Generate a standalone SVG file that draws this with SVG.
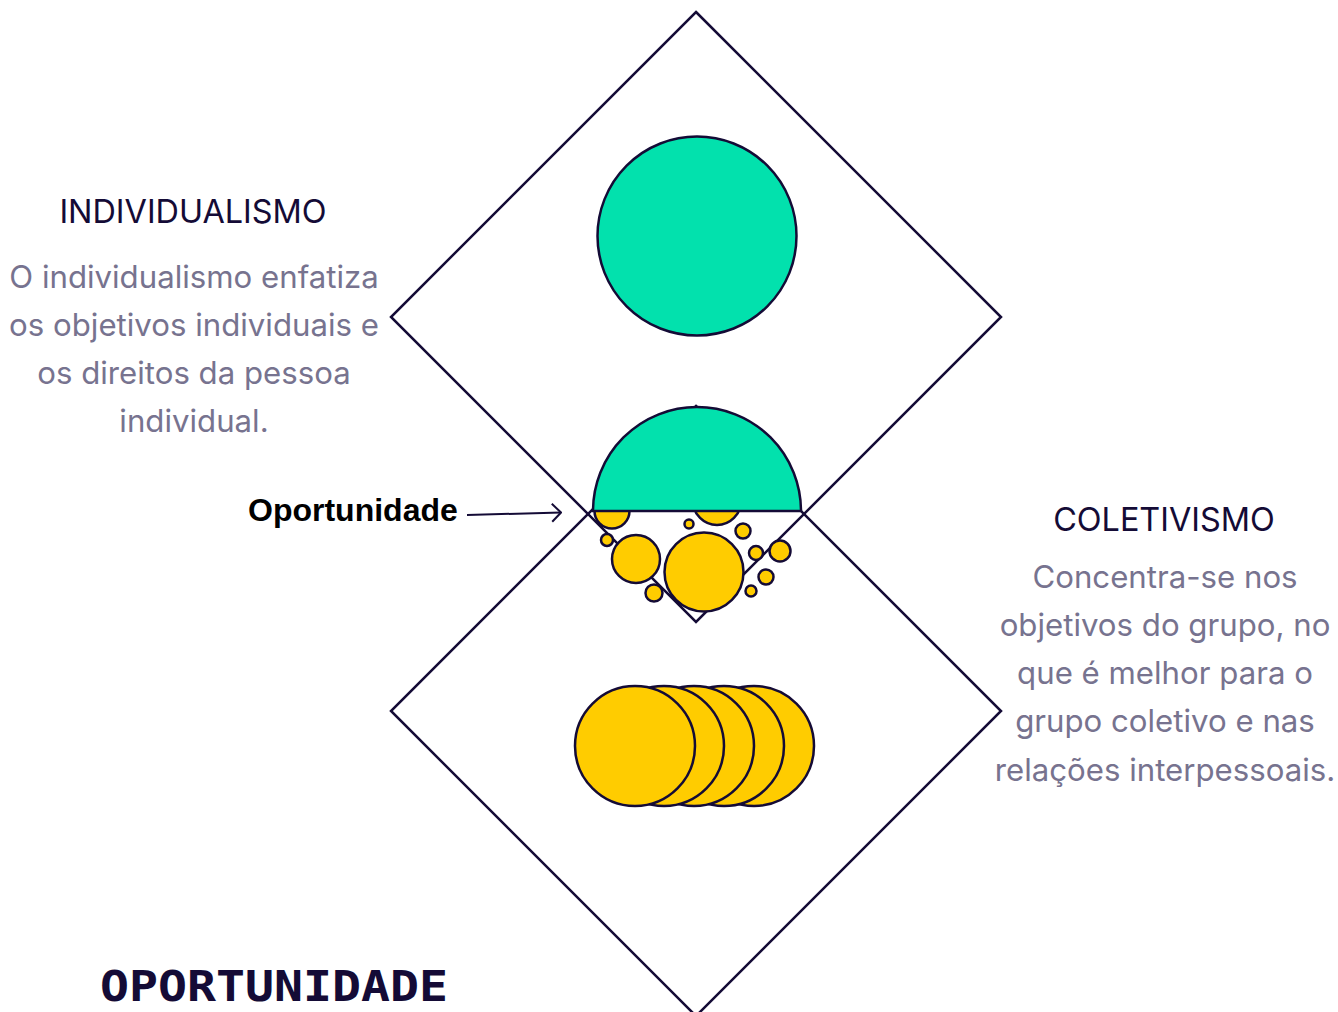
<svg xmlns="http://www.w3.org/2000/svg" width="1338" height="1012" viewBox="0 0 1338 1012">
<defs>
<style>
.dia{fill:none;stroke:#140b36;stroke-width:2.5}
.teal{fill:#02e1ad;stroke:#140b36;stroke-width:2.5}
.yel{fill:#ffcc00;stroke:#140b36;stroke-width:2.5}
.head{font-family:Inter,"Noto Sans",sans-serif;font-size:32.4px;fill:#140b36;text-anchor:middle}
.body{font-family:Inter,"Noto Sans",sans-serif;font-size:31.2px;fill:#77738f;text-anchor:middle}
.lbl{font-family:"Liberation Sans",Arial,sans-serif;font-weight:bold;font-size:32px;fill:#000000}
.title{font-family:"DejaVu Sans Mono",monospace;font-weight:bold;font-size:43px;fill:#140b36}
</style>
<marker id="arr" viewBox="0 0 12 20" refX="11" refY="10" markerWidth="12" markerHeight="20" markerUnits="userSpaceOnUse" orient="auto">
<path d="M2,1 L11,10 L2,19" fill="none" stroke="#140b36" stroke-width="2"/>
</marker>
</defs>
<rect width="1338" height="1012" fill="#ffffff"/>
<g id="diamond-bottom">
<polygon class="dia" points="696,406 1001,711 696,1016 391,711"/>
</g>
<g id="diamond-top">
<polygon class="dia" points="696,12 1001,317 696,622 391,317"/>
</g>
<g id="individual-circle">
<circle class="teal" cx="697" cy="236" r="99.5"/>
</g>
<g id="small-circles">
<circle class="yel" cx="612" cy="511" r="17.5"/>
<circle class="yel" cx="717" cy="501" r="24"/>
<circle class="yel" cx="689" cy="524" r="4.5"/>
<circle class="yel" cx="607" cy="540" r="6"/>
<circle class="yel" cx="636" cy="559" r="24"/>
<circle class="yel" cx="704" cy="572" r="39.5"/>
<circle class="yel" cx="654" cy="593" r="8.5"/>
<circle class="yel" cx="743" cy="531" r="7.5"/>
<circle class="yel" cx="756" cy="553" r="7"/>
<circle class="yel" cx="780" cy="551" r="10.5"/>
<circle class="yel" cx="766" cy="577" r="7.5"/>
<circle class="yel" cx="751" cy="591" r="5.5"/>
</g>
<g id="half-circle">
<path class="teal" d="M593,511 A104,104 0 0 1 801,511 Z"/>
</g>
<g id="collective-circles">
<circle class="yel" cx="754" cy="746" r="60"/>
<circle class="yel" cx="724" cy="746" r="60"/>
<circle class="yel" cx="694" cy="746" r="60"/>
<circle class="yel" cx="664" cy="746" r="60"/>
<circle class="yel" cx="635" cy="746" r="60"/>
</g>
<g id="connectors">
<line x1="467" y1="515" x2="561" y2="512.5" stroke="#140b36" stroke-width="2" marker-end="url(#arr)"/>
</g>
<g id="label-oportunidade">
<text class="lbl" x="248" y="521">Oportunidade</text>
</g>
<g id="individualismo">
<text class="head" x="193" y="223">INDIVIDUALISMO</text>
<text class="body" x="194" y="288">O individualismo enfatiza</text>
<text class="body" x="194" y="336">os objetivos individuais e</text>
<text class="body" x="194" y="384">os direitos da pessoa</text>
<text class="body" x="194" y="432">individual.</text>
</g>
<g id="coletivismo">
<text class="head" x="1164" y="531">COLETIVISMO</text>
<text class="body" x="1165" y="588">Concentra-se nos</text>
<text class="body" x="1165" y="636">objetivos do grupo, no</text>
<text class="body" x="1165" y="684">que é melhor para o</text>
<text class="body" x="1165" y="732">grupo coletivo e nas</text>
<text class="body" x="1165" y="781">relações interpessoais.</text>
</g>
<g id="title">
<text class="title" x="100" y="1001" textLength="348" lengthAdjust="spacingAndGlyphs">OPORTUNIDADE</text>
</g>
</svg>
